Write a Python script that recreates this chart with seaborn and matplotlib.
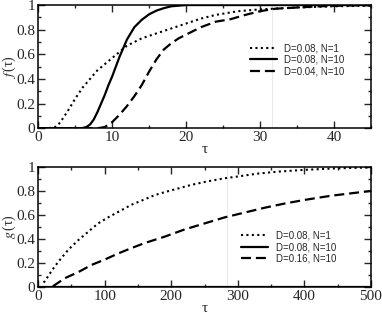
import numpy as np
import matplotlib
matplotlib.use("Agg")
import matplotlib.pyplot as plt
import seaborn as sns
from matplotlib.ticker import MultipleLocator

# top panel: f(tau)
tau_a1 = [0, 1, 2, 2.5, 3, 4, 5, 6, 7, 8, 9, 10, 11, 12, 13, 14, 15, 16, 18, 20, 22, 24, 27, 30, 35, 40, 45]
f_a1 = [0, 0, 0.005, 0.015, 0.05, 0.14, 0.24, 0.33, 0.40, 0.47, 0.52, 0.57, 0.62, 0.67, 0.70, 0.73,
        0.75, 0.77, 0.81, 0.85, 0.89, 0.92, 0.95, 0.965, 0.98, 0.99, 0.995]
tau_a2 = [0, 5, 6, 6.5, 7, 7.5, 8, 8.5, 9, 9.5, 10, 10.5, 11, 11.5, 12, 12.5, 13, 14, 15, 16, 17, 18, 19, 20, 25, 30, 45]
f_a2 = [0, 0, 0.002, 0.01, 0.03, 0.07, 0.13, 0.20, 0.27, 0.35, 0.42, 0.50, 0.58, 0.65, 0.72, 0.77,
        0.82, 0.88, 0.925, 0.955, 0.975, 0.99, 0.995, 1, 1, 1, 1]
tau_a3 = [0, 8, 9, 10, 11, 12, 13, 14, 15, 16, 17, 18, 19, 20, 21, 22, 24, 26, 28, 30, 32, 35, 38, 41, 45]
f_a3 = [0, 0, 0.01, 0.05, 0.11, 0.18, 0.26, 0.35, 0.46, 0.56, 0.64, 0.69, 0.73, 0.76, 0.79, 0.82,
        0.865, 0.885, 0.92, 0.95, 0.97, 0.98, 0.99, 0.995, 1.0]
labels_a = ["D=0.08, N=1", "D=0.08, N=10", "D=0.04, N=10"]

# bottom panel: g(tau)
tau_b1 = [8, 10, 20, 30, 45, 60, 75, 90, 105, 125, 140, 160, 175, 190, 210, 230, 255, 280, 300, 330,
          360, 400, 450, 500]
g_b1 = [0.04, 0.05, 0.135, 0.21, 0.31, 0.39, 0.46, 0.53, 0.58, 0.64, 0.685, 0.73, 0.765, 0.79, 0.82,
        0.85, 0.88, 0.905, 0.92, 0.944, 0.96, 0.975, 0.988, 0.995]
tau_b2 = [0, 500]
g_b2 = [0, 0]
tau_b3 = [0, 20, 40, 60, 80, 100, 120, 140, 160, 190, 220, 250, 280, 310, 340, 370, 400, 440, 470, 500]
g_b3 = [0, 0, 0.075, 0.125, 0.185, 0.23, 0.28, 0.325, 0.367, 0.42, 0.48, 0.53, 0.58, 0.62, 0.66,
        0.695, 0.725, 0.76, 0.78, 0.80]
labels_b = ["D=0.08, N=1", "D=0.08, N=10", "D=0.16, N=10"]

sns.set_style("ticks")
plt.rcParams["font.family"] = ["Liberation Serif", "DejaVu Serif"]
plt.rcParams["mathtext.fontset"] = "stix"

fig = plt.figure(figsize=(3.82, 3.16), dpi=100)
ax1 = fig.add_axes([0.100, 0.594, 0.871, 0.390])
ax2 = fig.add_axes([0.100, 0.091, 0.871, 0.381])

styles = [dict(linestyle=(0, (1, 1.6)), lw=1.5),
          dict(linestyle="-", lw=1.6),
          dict(linestyle=(0, (4.5, 2.2)), lw=1.6)]

for x, y, lab, st in zip([tau_a1, tau_a2, tau_a3], [f_a1, f_a2, f_a3], labels_a, styles):
    sns.lineplot(x=x, y=y, ax=ax1, color="black", label=lab, sort=False, **st)
for x, y, lab, st in zip([tau_b1, tau_b2, tau_b3], [g_b1, g_b2, g_b3], labels_b, styles):
    sns.lineplot(x=x, y=y, ax=ax2, color="black", label=lab, sort=False, **st)

# faint scan lines
ax1.axvline(31.6, color="#e4e4e4", lw=0.6, zorder=0)
ax2.axvline(283, color="#e4e4e4", lw=0.6, zorder=0)


def fmt(v, pos):
    if abs(v) < 1e-9:
        return "0"
    if abs(v - 1) < 1e-9:
        return "1"
    return f"{v:.1f}"


def style_axis(ax, xmax, xmaj, xmin):
    ax.set_xlim(0, xmax)
    ax.set_ylim(0, 1)
    ax.xaxis.set_major_locator(MultipleLocator(xmaj))
    ax.xaxis.set_minor_locator(MultipleLocator(xmin))
    ax.yaxis.set_major_locator(MultipleLocator(0.2))
    ax.yaxis.set_minor_locator(MultipleLocator(0.1))
    ax.yaxis.set_major_formatter(plt.FuncFormatter(fmt))
    ax.tick_params(which="both", direction="in", top=True, right=True, labelsize=11, width=1, pad=2)
    ax.tick_params(which="major", length=5)
    ax.tick_params(which="minor", length=2.5)
    for s in ax.spines.values():
        s.set_linewidth(1.1)
        s.set_color("black")


style_axis(ax1, 45, 10, 5)
style_axis(ax2, 500, 100, 50)

ax1.set_xlabel("τ", fontsize=11, labelpad=-1)
ax1.set_ylabel(r"$f\,$(τ)", fontsize=10)
ax2.set_xlabel("τ", fontsize=11, labelpad=-1)
ax2.set_ylabel(r"$g\,$(τ)", fontsize=10)
ax1.yaxis.set_label_coords(-0.062, 0.5)
ax2.yaxis.set_label_coords(-0.062, 0.5)

leg_kw = dict(frameon=False, loc="upper left", borderpad=0, borderaxespad=0, handlelength=2.75,
              handletextpad=0.75, labelspacing=0.15, prop={"family": "Liberation Sans", "size": 7})
ax1.legend(bbox_to_anchor=(0.636, 0.69), **leg_kw)
ax2.legend(bbox_to_anchor=(0.611, 0.47), **leg_kw)

fig.savefig("out.png", dpi=100)
